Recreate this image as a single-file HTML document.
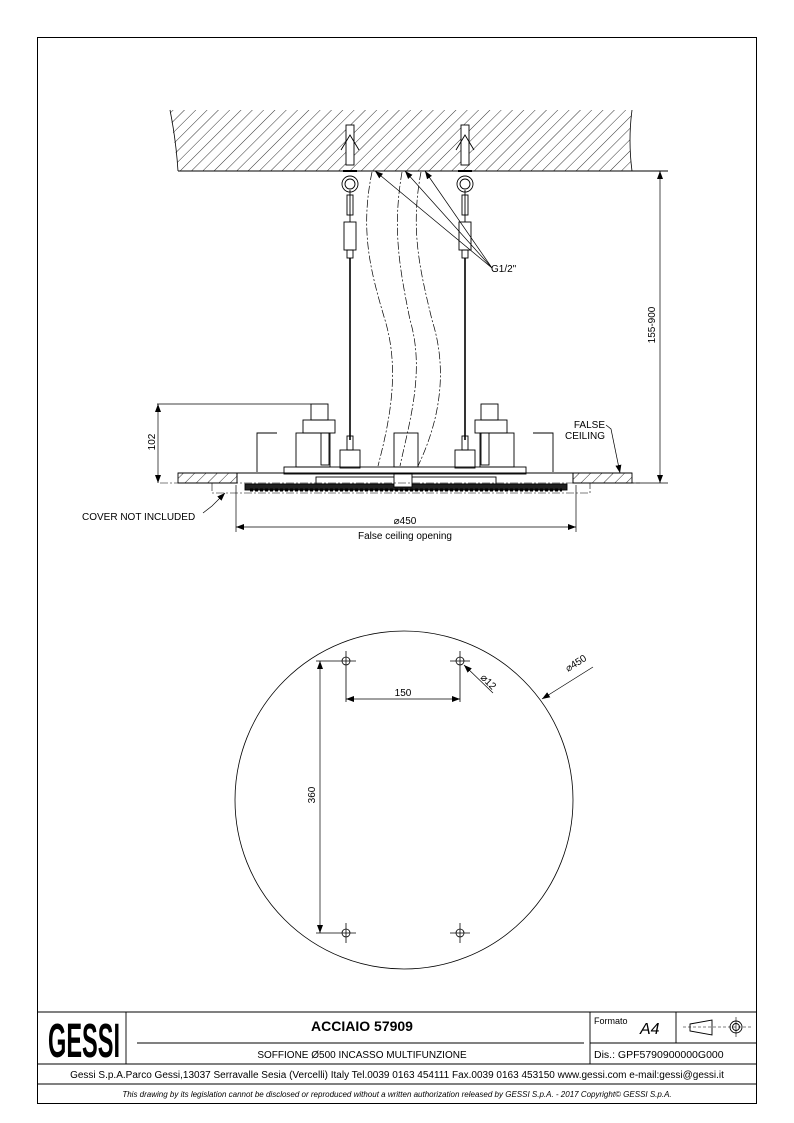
<!DOCTYPE html>
<html><head><meta charset="utf-8"><style>
html,body{margin:0;padding:0;background:#fff}
svg{display:block}
text{font-family:"Liberation Sans",sans-serif;fill:#000}
</style></head><body>
<svg width="794" height="1123" viewBox="0 0 794 1123" xmlns="http://www.w3.org/2000/svg">
<defs>
<pattern id="h" width="8" height="8" patternUnits="userSpaceOnUse" patternTransform="rotate(45)">
<line x1="0" y1="0" x2="0" y2="8" stroke="#000" stroke-width="0.8"/></pattern>
<marker id="a" markerWidth="8" markerHeight="6" refX="8" refY="3" orient="auto" markerUnits="userSpaceOnUse"><path d="M0,0 L8,3 L0,6 z" fill="#000"/></marker>
<marker id="b" markerWidth="8" markerHeight="6" refX="0" refY="3" orient="auto" markerUnits="userSpaceOnUse"><path d="M8,0 L0,3 L8,6 z" fill="#000"/></marker>
</defs>
<rect x="37.5" y="37.5" width="719" height="1066" fill="none" stroke="#000" stroke-width="1"/>

<!-- ceiling -->
<path d="M170 110 L632 110 Q628 140 632 171 L178 171 Q174 140 170 110 Z" fill="url(#h)"/>
<line x1="178" y1="171" x2="668" y2="171" stroke="#000" stroke-width="1"/>
<path d="M170 110 Q176 140 178 171 M632 110 Q628 140 632 171" fill="none" stroke="#000" stroke-width="0.8"/>

<g stroke="#000" fill="none" stroke-width="0.9">
<g id="anc">
<rect x="346" y="125" width="8" height="40" fill="#fff"/>
<path d="M341 150 L350 135 L359 150"/>
<line x1="343" y1="171" x2="357" y2="171" stroke-width="2"/>
<circle cx="350" cy="184" r="8"/><circle cx="350" cy="184" r="5"/>
<line x1="350" y1="190" x2="350" y2="222"/><rect x="347" y="195" width="6" height="20"/>
<rect x="344" y="222" width="12" height="28"/><rect x="347" y="250" width="6" height="8"/>
<line x1="350" y1="258" x2="350" y2="440" stroke-width="1.6"/>
<rect x="347" y="436" width="6" height="14"/>
<rect x="340" y="450" width="20" height="18"/>
</g>
<use href="#anc" transform="translate(115,0)"/>

<g stroke-dasharray="8,2,2,2" stroke-width="0.7">
<path d="M372 172 C360 230 370 270 385 320 C400 370 390 420 378 466"/>
<path d="M402 172 C392 230 400 270 410 320 C425 370 410 420 400 466"/>
<path d="M421 172 C410 230 420 270 432 320 C448 370 440 420 418 466"/>
</g>
<g stroke-width="0.7">
<line x1="375" y1="171" x2="492" y2="268" marker-start="url(#b)"/>
<line x1="405" y1="171" x2="492" y2="268" marker-start="url(#b)"/>
<line x1="425" y1="171" x2="492" y2="268" marker-start="url(#b)"/>
</g>

<rect x="284" y="467" width="242" height="7"/>
<rect x="296" y="433" width="34" height="34"/><rect x="480" y="433" width="34" height="34"/>
<rect x="394" y="433" width="24" height="34"/>
<rect x="303" y="420" width="32" height="13"/><rect x="475" y="420" width="32" height="13"/>
<rect x="311" y="404" width="17" height="16"/><rect x="481" y="404" width="17" height="16"/>
<rect x="321" y="433" width="8" height="32"/><rect x="481" y="433" width="8" height="32"/>
<path d="M257 472 L257 433 L277 433 M553 472 L553 433 L533 433"/>
<rect x="178" y="473" width="59" height="10" fill="url(#h)"/>
<rect x="573" y="473" width="59" height="10" fill="url(#h)"/>
<path d="M178 473 H237 V483 H178 M632 473 H573 V483 H632"/>
<line x1="237" y1="473" x2="573" y2="473"/>
<rect x="245" y="484" width="322" height="6" fill="#222"/>
<path d="M250 490 H562" stroke-dasharray="3,2" stroke-width="3"/>
<rect x="316" y="477" width="180" height="7"/>
<rect x="394" y="474" width="18" height="13" fill="#fff"/>
<path d="M212 483 V493 H590 V483" stroke-dasharray="8,2,2,2" stroke-width="0.6"/>
<line x1="160" y1="483" x2="640" y2="483" stroke-dasharray="8,2,2,2" stroke-width="0.6"/>
</g>

<g stroke="#000" stroke-width="0.7" fill="none">
<line x1="157" y1="404" x2="311" y2="404"/>
<line x1="158" y1="404" x2="158" y2="483" marker-start="url(#b)" marker-end="url(#a)"/>
<line x1="660" y1="171" x2="660" y2="483" marker-start="url(#b)" marker-end="url(#a)"/>
<line x1="632" y1="483" x2="668" y2="483"/>
<line x1="236" y1="485" x2="236" y2="532"/><line x1="576" y1="485" x2="576" y2="532"/>
<line x1="236" y1="527" x2="576" y2="527" marker-start="url(#b)" marker-end="url(#a)"/>
<path d="M203 513 L212 506 L225 493" marker-end="url(#a)"/>
<path d="M606 425 L611 429 L620 473" marker-end="url(#a)"/>
</g>
<text x="157" y="444" font-size="10" text-anchor="middle" transform="rotate(-90 155 444)">102</text>
<text x="657" y="327" font-size="10" text-anchor="middle" transform="rotate(-90 655 327)">155-900</text>
<text x="491" y="272" font-size="10">G1/2"</text>
<text x="82" y="520" font-size="10">COVER NOT INCLUDED</text>
<text x="605" y="428" font-size="10" text-anchor="end">FALSE</text>
<text x="605" y="439" font-size="10" text-anchor="end">CEILING</text>
<text x="405" y="524" font-size="10" text-anchor="middle">⌀450</text>
<text x="405" y="539" font-size="10" text-anchor="middle">False ceiling opening</text>

<g stroke="#000" fill="none" stroke-width="0.8">
<circle cx="404" cy="800" r="169"/>
<g id="hole"><circle cx="346" cy="661" r="4"/><line x1="336" y1="661" x2="356" y2="661"/><line x1="346" y1="651" x2="346" y2="671"/></g>
<use href="#hole" transform="translate(114,0)"/>
<use href="#hole" transform="translate(0,272)"/>
<use href="#hole" transform="translate(114,272)"/>
<line x1="316" y1="661" x2="336" y2="661"/>
<line x1="320" y1="661" x2="320" y2="933" marker-start="url(#b)" marker-end="url(#a)" stroke-width="0.7"/>
<line x1="316" y1="933" x2="336" y2="933"/>
<line x1="346" y1="671" x2="346" y2="702"/><line x1="460" y1="671" x2="460" y2="702"/>
<line x1="346" y1="699" x2="460" y2="699" marker-start="url(#b)" marker-end="url(#a)" stroke-width="0.7"/>
<line x1="493" y1="693" x2="464" y2="665" marker-end="url(#a)" stroke-width="0.7"/>
<line x1="593" y1="667" x2="542" y2="699" marker-end="url(#a)" stroke-width="0.7"/>
</g>
<text x="403" y="696" font-size="10" text-anchor="middle">150</text>
<text x="317" y="797" font-size="10" text-anchor="middle" transform="rotate(-90 315 797)">360</text>
<text x="480" y="678" font-size="10" transform="rotate(45 480 678)">⌀12</text>
<text x="568" y="672" font-size="10" transform="rotate(-32 568 672)">⌀450</text>

<g stroke="#000" fill="none" stroke-width="0.9">
<line x1="37" y1="1012" x2="757" y2="1012"/>
<line x1="37" y1="1064" x2="757" y2="1064"/>
<line x1="37" y1="1084" x2="757" y2="1084"/>
<line x1="126" y1="1012" x2="126" y2="1064"/>
<line x1="590" y1="1012" x2="590" y2="1064"/>
<line x1="676" y1="1012" x2="676" y2="1043"/>
<line x1="590" y1="1043" x2="757" y2="1043"/>
<line x1="137" y1="1043" x2="584" y2="1043"/>
<path d="M690 1024 L712 1020 L712 1035 L690 1031 Z"/>
<line x1="683" y1="1027" x2="752" y2="1027" stroke-dasharray="3,2" stroke-width="0.6"/>
<circle cx="736" cy="1027" r="6"/><circle cx="736" cy="1027" r="3.5"/>
<line x1="736" y1="1017" x2="736" y2="1037" stroke-width="0.6"/>
</g>
<text x="48" y="1057" font-size="48" font-weight="bold" textLength="72" lengthAdjust="spacingAndGlyphs">GESSI</text>
<text x="362" y="1031" font-size="14" font-weight="bold" text-anchor="middle">ACCIAIO 57909</text>
<text x="362" y="1058" font-size="10" text-anchor="middle">SOFFIONE Ø500 INCASSO MULTIFUNZIONE</text>
<text x="594" y="1024" font-size="9">Formato</text>
<text x="640" y="1034" font-size="16" font-style="italic">A4</text>
<text x="594" y="1058" font-size="10.5">Dis.: GPF5790900000G000</text>
<text x="397" y="1078" font-size="10" text-anchor="middle">Gessi S.p.A.Parco Gessi,13037 Serravalle Sesia (Vercelli) Italy Tel.0039 0163 454111 Fax.0039 0163 453150 www.gessi.com e-mail:gessi@gessi.it</text>
<text x="397" y="1097" font-size="8" font-style="italic" text-anchor="middle">This drawing by its legislation cannot be disclosed or reproduced without a written authorization released by GESSI S.p.A. - 2017 Copyright© GESSI S.p.A.</text>
</svg>
</body></html>
